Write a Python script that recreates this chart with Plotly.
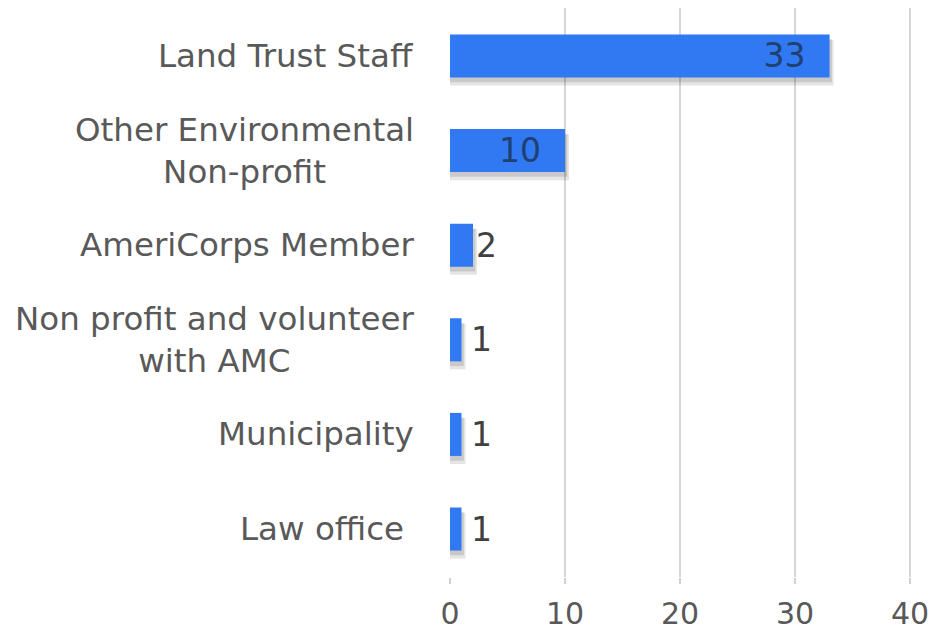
import plotly.graph_objects as go

categories = ["Land Trust Staff", "Other Environmental<br>Non-profit", "AmeriCorps Member",
              "Non profit and volunteer<br>with AMC", "Municipality", "Law office "]
values = [33, 10, 2, 1, 1, 1]
label_pos = ["inside", "inside", "outside", "outside", "outside", "outside"]
label_fmt = ["%{x}\u00a0\u00a0", "%{x}\u00a0\u00a0", "%{x}", "\u2009%{x}", "\u2009%{x}", "\u2009%{x}"]
tick_vals = [0, 10, 20, 30, 40]

FONT = "DejaVu Sans"
BAR_W = 0.455

fig = go.Figure()
# soft drop shadow under each bar
for shift, extra, alpha, grow in [(0.07, 0.35, 0.10, 0.03), (0.05, 0.2, 0.12, 0.0)]:
    fig.add_trace(go.Bar(
        y=categories, x=[v + extra for v in values], orientation="h",
        width=BAR_W + grow, offset=-BAR_W / 2 + shift - grow / 2,
        marker=dict(color=f"rgba(0,0,0,{alpha})", line=dict(width=0)),
        hoverinfo="skip", showlegend=False,
    ))
fig.add_trace(go.Bar(
    y=categories, x=values, orientation="h",
    width=BAR_W, offset=-BAR_W / 2,
    marker=dict(color="#3179f3", line=dict(width=0)),
    texttemplate=label_fmt,
    textposition=label_pos,
    insidetextanchor="end",
    textangle=0,
    constraintext="none",
    insidetextfont=dict(family=FONT, size=33, color="#20406f"),
    outsidetextfont=dict(family=FONT, size=33, color="#404040"),
    cliponaxis=False,
))

for c in categories:
    fig.add_annotation(
        x=-0.069, y=c, xref="paper", yref="y", text=c, showarrow=False,
        xanchor="right", yanchor="middle", align="center",
        font=dict(family=FONT, size=32.5, color="#595959"),
    )

fig.update_layout(
    width=932, height=627,
    margin=dict(l=442, r=0, t=0, b=58),
    paper_bgcolor="white", plot_bgcolor="white",
    showlegend=False, barmode="overlay",
)
fig.update_xaxes(
    range=[0, 42.6], tickvals=tick_vals, ticktext=[str(t) for t in tick_vals],
    showgrid=True, gridcolor="#d6d6d6", gridwidth=2,
    zeroline=False, showline=False,
    ticks="outside", ticklen=6, tickcolor="#d0d0d0", tickwidth=2,
    ticklabelstandoff=4,
    tickfont=dict(family=FONT, size=30, color="#595959"),
)
fig.update_yaxes(
    categoryorder="array", categoryarray=categories,
    range=[5.507, -0.507], showticklabels=False, showgrid=False,
    zeroline=False, showline=False, ticks="",
)

fig.write_html("out.html")
